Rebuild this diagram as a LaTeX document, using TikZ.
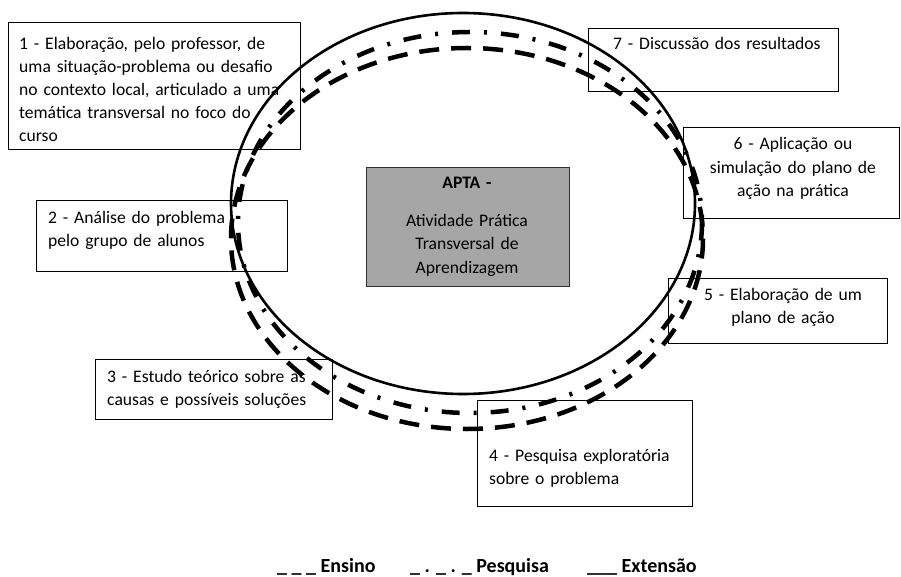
\documentclass[tikz,border=0pt]{standalone}
\usepackage{fontspec}
\setmainfont{Carlito}
\begin{document}
\begin{tikzpicture}[x=1pt,y=-1pt,
  box/.style={draw=black, line width=0.9pt, anchor=north west, inner sep=0pt},
  txtl/.style={anchor=base west, inner sep=0pt, text width=#1, align=left, font=\fontsize{17.6}{23}\selectfont},
  txtc/.style={anchor=base, inner sep=0pt, text width=#1, align=center, font=\fontsize{17.6}{23.5}\selectfont},
  leg/.style={anchor=base west, inner sep=0pt, font=\fontsize{20}{22}\selectfont\bfseries},
  extensao/.style={line width=2.6pt},
  pesquisa/.style={line width=4.5pt, dash pattern=on 18pt off 14pt on 3pt off 14pt},
  ensino/.style={line width=4.5pt, dash pattern=on 20pt off 12pt}]
\useasboundingbox (0,0) rectangle (901,577);
% boxes
\node[box, minimum width=292pt, minimum height=127pt] (b1) at (8,22) {};
\node[box, minimum width=251pt, minimum height=71pt] (b2) at (36,200) {};
\node[box, minimum width=237pt, minimum height=60pt] (b3) at (95,359) {};
\node[box, minimum width=215pt, minimum height=106pt] (b4) at (477,400) {};
\node[box, minimum width=219pt, minimum height=65pt] (b5) at (668,278) {};
\node[box, minimum width=216pt, minimum height=91pt] (b6) at (683,127) {};
\node[box, minimum width=250pt, minimum height=63pt] (b7) at (588,28) {};
\node[box, fill={rgb,255:red,166;green,166;blue,166}, draw={rgb,255:red,50;green,50;blue,50}, line width=1.2pt, minimum width=203pt, minimum height=119pt] (apta) at (366,167) {};
% texts
\node[txtl=290pt] (t1) at (19,50) {1 - Elaboração, pelo professor, de\\uma situação-problema ou desafio\\no contexto local, articulado a uma\\temática transversal no foco do\\curso};
\node[txtl=240pt] (t2) at (48,223) {2 - Análise do problema\\pelo grupo de alunos};
\node[txtl=230pt] (t3) at (107,382) {3 - Estudo teórico sobre as\\causas e possíveis soluções};
\node[txtl=200pt] (t4) at (489,461) {4 - Pesquisa exploratória\\sobre o problema};
\node[txtc=210pt] (t5) at (783,300) {5 - Elaboração de um\\plano de ação};
\node[txtc=210pt] (t6) at (793,150) {6 - Aplicação ou\\simulação do plano de\\ação na prática};
\node[txtl=240pt] (t7) at (613,50) {7 - Discussão dos resultados};
\node[txtc=200pt] (ta) at (467,189) {\textbf{APTA -}\\[14pt]Atividade Prática\\Transversal de\\Aprendizagem};
% ellipses
\draw[extensao] (463,203.5) ellipse [x radius=232, y radius=190.5];
\draw[pesquisa] (470,222.5) ellipse [x radius=232, y radius=190.5];
\draw[ensino] (467,238.5) ellipse [x radius=236, y radius=190.5];
% legend
\node[leg] (l1) at (277,572) {\_ \_ \_ Ensino};
\node[leg] (l2) at (410,572) {\_ . \_ . \_ Pesquisa};
\node[leg] (l3) at (587,572) {\_\_\_ Extensão};
\end{tikzpicture}
\end{document}
